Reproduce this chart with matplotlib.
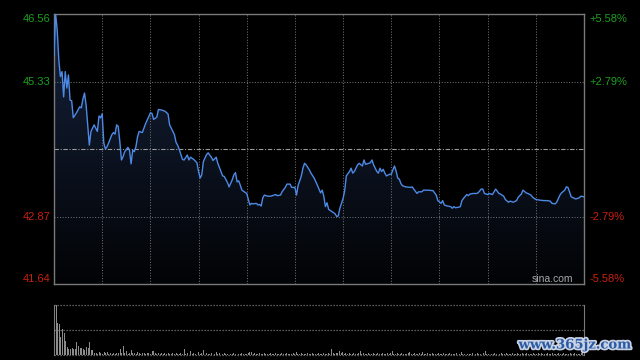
import numpy as np
import matplotlib
matplotlib.use('Agg')
import matplotlib.pyplot as plt
import matplotlib.transforms as mtransforms
import matplotlib.patheffects as pe
from matplotlib.colors import LinearSegmentedColormap

# 港股分时: 09:30-12:00, 13:00-16:00 -> 330 分钟
prev_close = 44.10
price_high = 46.56
price_low = 41.64

minutes = [0, 1, 2, 3, 4, 5, 6, 7, 8, 9, 10, 11, 12, 14, 16, 17, 18, 19, 20, 21,
           22, 23, 25, 26, 27, 28, 29, 30, 31, 32, 33, 34, 36, 37, 38, 39, 40, 41, 42, 43,
           44, 46, 47, 48, 49, 50, 51, 52, 53, 55, 56, 57, 59, 60, 61, 62, 64, 65, 67, 69,
           71, 72, 73, 75, 76, 77, 78, 80, 81, 83, 84, 85, 87, 89, 90, 91, 92, 93, 95, 96,
           98, 99, 101, 102, 104, 105, 106, 108, 109, 111, 112, 113, 114, 115, 116, 117, 119, 120, 121, 122,
           123, 124, 126, 127, 128, 129, 130, 131, 133, 135, 137, 138, 139, 141, 142, 144, 145, 147, 148, 150,
           151, 152, 153, 154, 155, 156, 157, 159, 160, 162, 164, 166, 167, 168, 169, 170, 171, 173, 175, 176,
           177, 178, 180, 181, 182, 184, 185, 186, 187, 189, 190, 192, 193, 194, 196, 197, 198, 199, 201, 202,
           203, 204, 205, 206, 207, 209, 210, 211, 212, 213, 214, 215, 216, 217, 219, 222, 223, 224, 226, 227,
           229, 230, 233, 236, 238, 239, 241, 242, 243, 245, 247, 248, 249, 250, 252, 253, 254, 255, 257, 258,
           259, 261, 263, 264, 266, 267, 268, 270, 271, 273, 274, 275, 277, 278, 280, 281, 283, 284, 286, 288,
           289, 291, 292, 294, 295, 297, 298, 300, 302, 305, 307, 309, 310, 312, 313, 315, 316, 318, 319, 320,
           321, 322, 324, 325, 327, 328, 330]

prices = [45.81, 46.56, 46.27, 45.72, 45.42, 45.51, 45.05, 45.51, 45.21, 45.45, 44.99, 44.98, 44.67, 44.76, 44.87, 44.85, 45.01, 45.12, 44.90, 44.54,
          44.17, 44.42, 44.54, 44.48, 44.42, 44.70, 44.67, 44.74, 44.21, 44.10, 44.14, 44.21, 44.36, 44.40, 44.37, 44.54, 44.51, 44.23, 43.90, 43.96,
          44.05, 44.13, 44.08, 43.83, 44.08, 44.05, 44.14, 44.32, 44.42, 44.40, 44.48, 44.56, 44.69, 44.76, 44.75, 44.64, 44.68, 44.82, 44.81, 44.79,
          44.74, 44.54, 44.48, 44.36, 44.22, 44.17, 44.09, 43.91, 43.90, 43.99, 43.90, 43.95, 43.91, 43.85, 43.69, 43.57, 43.63, 43.87, 44.00, 44.03,
          43.95, 43.89, 43.95, 43.84, 43.69, 43.61, 43.60, 43.49, 43.41, 43.54, 43.63, 43.67, 43.50, 43.52, 43.44, 43.35, 43.31, 43.29, 43.18, 43.08,
          43.11, 43.10, 43.11, 43.08, 43.09, 43.06, 43.21, 43.26, 43.24, 43.24, 43.26, 43.27, 43.25, 43.26, 43.32, 43.40, 43.46, 43.46, 43.40, 43.40,
          43.26, 43.44, 43.52, 43.61, 43.75, 43.84, 43.81, 43.72, 43.66, 43.57, 43.44, 43.30, 43.35, 43.24, 43.05, 43.12, 43.00, 42.96, 42.92, 42.87,
          42.88, 43.02, 43.20, 43.34, 43.61, 43.69, 43.75, 43.66, 43.69, 43.81, 43.84, 43.79, 43.90, 43.82, 43.84, 43.85, 43.90, 43.81, 43.69, 43.66,
          43.75, 43.69, 43.73, 43.66, 43.61, 43.64, 43.64, 43.72, 43.79, 43.70, 43.57, 43.55, 43.47, 43.43, 43.41, 43.40, 43.41, 43.37, 43.29, 43.32,
          43.32, 43.35, 43.35, 43.34, 43.26, 43.16, 43.11, 43.16, 43.08, 43.06, 43.05, 43.02, 43.05, 43.03, 43.04, 43.05, 43.16, 43.20, 43.27, 43.25,
          43.28, 43.29, 43.29, 43.30, 43.37, 43.37, 43.29, 43.27, 43.29, 43.27, 43.32, 43.37, 43.29, 43.28, 43.24, 43.18, 43.13, 43.15, 43.13, 43.16,
          43.22, 43.28, 43.35, 43.30, 43.29, 43.26, 43.22, 43.18, 43.17, 43.16, 43.16, 43.15, 43.11, 43.10, 43.13, 43.26, 43.30, 43.35, 43.41, 43.40,
          43.32, 43.23, 43.20, 43.19, 43.21, 43.24, 43.23]

# 每分钟成交量 (相对单位)
volumes = [31, 49, 31, 30, 18, 25, 22, 14, 8, 6,
           6, 7, 6, 6, 13, 9, 7, 7, 6, 5,
           8, 7, 13, 5, 5, 2, 2, 1, 3, 2,
           1, 3, 2, 3, 1, 2, 1, 2, 1, 2,
           2, 6, 2, 9, 2, 4, 1, 2, 5, 2,
           2, 1, 3, 2, 1, 2, 2, 1, 2, 2,
           1, 4, 4, 2, 1, 2, 1, 2, 1, 2,
           1, 2, 1, 1, 2, 1, 2, 1, 1, 2,
           1, 6, 1, 2, 1, 4, 1, 2, 1, 3,
           3, 1, 2, 5, 1, 2, 1, 1, 2, 1,
           1, 3, 1, 2, 1, 1, 2, 1, 1, 2,
           1, 1, 2, 1, 2, 1, 1, 2, 1, 1,
           1, 2, 3, 3, 1, 2, 1, 1, 2, 1,
           1, 2, 1, 1, 1, 2, 1, 1, 2, 1,
           1, 1, 2, 1, 1, 2, 1, 1, 1, 2,
           1, 3, 1, 1, 2, 1, 1, 1, 2, 1,
           1, 2, 1, 1, 1, 2, 1, 1, 2, 1,
           1, 2, 1, 6, 2, 1, 2, 2, 4, 2,
           3, 1, 2, 1, 2, 1, 1, 2, 1, 1,
           2, 4, 1, 2, 1, 1, 2, 1, 1, 2,
           1, 1, 2, 1, 1, 2, 1, 1, 2, 1,
           2, 4, 1, 1, 2, 1, 1, 2, 1, 1,
           1, 2, 3, 1, 1, 2, 1, 1, 2, 1,
           3, 1, 1, 2, 1, 1, 2, 1, 1, 1,
           2, 1, 1, 2, 1, 1, 1, 2, 1, 1,
           1, 2, 1, 1, 3, 1, 1, 2, 1, 1,
           1, 2, 1, 1, 2, 1, 1, 1, 2, 4,
           1, 1, 2, 1, 1, 2, 1, 1, 1, 2,
           1, 1, 2, 1, 1, 1, 2, 1, 1, 2,
           1, 1, 2, 1, 1, 2, 1, 1, 1, 2,
           1, 1, 2, 1, 2, 1, 1, 1, 2, 1,
           1, 2, 1, 1, 1, 2, 1, 1, 2, 1,
           1, 1, 2, 1, 1, 2, 1, 1, 1, 2,
           3]

left_levels = [46.56, 45.33, 42.87, 41.64]
left_labels = ['46.56', '45.33', '42.87', '41.64']
right_labels = ['+5.58%', '+2.79%', '-2.79%', '-5.58%']
label_colors = ['#1f9e1f', '#1f9e1f', '#c81e10', '#c81e10']
label_va = ['top', 'center', 'center', 'bottom']

plt.rcParams['font.family'] = ['Liberation Sans', 'DejaVu Sans']

fig = plt.figure(figsize=(6.4, 3.6), dpi=100, facecolor='black')

# ---- 价格区 ----
ax = fig.add_axes([54 / 640, 1 - 284 / 360, 530 / 640, 270 / 360])
ax.set_facecolor('black')

fill = ax.fill_between(minutes, prices, price_low, color='none', lw=0)
grad = np.linspace(0, 1, 256).reshape(-1, 1)
cmap = LinearSegmentedColormap.from_list('fill', ['#020305', '#16233d'])
im = ax.imshow(grad, cmap=cmap, origin='lower', aspect='auto',
               extent=[0, 330, price_low, price_high], zorder=1)
im.set_clip_path(fill.get_paths()[0], transform=ax.transData)

ax.plot(minutes, prices, color='#4d8ae6', lw=1.0, zorder=3)

for t in range(30, 330, 30):
    ax.axvline(t, color='#6e6e6e', lw=0.75, ls=(0, (1, 1.6)), zorder=2)
for lv in [45.33, 42.87]:
    ax.axhline(lv, color='#6e6e6e', lw=0.75, ls=(0, (1, 1.6)), zorder=2)
ax.axhline(prev_close, color='#9a9a9a', lw=0.8, ls=(0, (4, 1.5, 1, 1.5)), zorder=2)

ax.set_xlim(0, 330)
ax.set_ylim(price_low, price_high)
ax.set_xticks([])
ax.set_yticks([])
for s in ax.spines.values():
    s.set_color('#7a7a7a')
    s.set_linewidth(1.0)

trans = mtransforms.blended_transform_factory(ax.transAxes, ax.transData)
for lv, lab, rlab, col, va in zip(left_levels, left_labels, right_labels, label_colors, label_va):
    ax.text(-0.006, lv, lab, transform=trans, ha='right', va=va, color=col, fontsize=8)
    ax.text(1.011, lv, rlab, transform=trans, ha='left', va=va, color=col, fontsize=8)

ax.text(0.979, 0.008, 'sina.com', transform=ax.transAxes, ha='right', va='baseline',
        color='#a8a8a8', fontsize=7.5)

# ---- 成交量区 ----
vx = fig.add_axes([54 / 640, 1 - 355 / 360, 530 / 640, 50 / 360])
vx.set_facecolor('black')
vx.bar(range(len(volumes)), volumes, width=0.6, align='edge', color='#8c8c8c', lw=0)
vmax = max(volumes)
for lv in [vmax, vmax / 2, 0]:
    vx.axhline(lv, color='#7a7a7a', lw=0.9, ls=(0, (1, 1.4)), clip_on=False)
vx.set_xlim(0, 331)
vx.set_ylim(0, vmax)
vx.set_xticks([])
vx.set_yticks([])
vx.spines['top'].set_visible(False)
vx.spines['bottom'].set_visible(False)
for side in ['left', 'right']:
    vx.spines[side].set_color('#7a7a7a')

fig.text(575 / 640, 1 - 345 / 360, 'www.365jz.com', ha='center', va='center',
         fontsize=9.5, fontweight='bold', color='#2a5aa6', family='DejaVu Serif',
         path_effects=[pe.withStroke(linewidth=2.5, foreground='#c8d2e2')])

fig.savefig('out.png', dpi=100, facecolor='black')
